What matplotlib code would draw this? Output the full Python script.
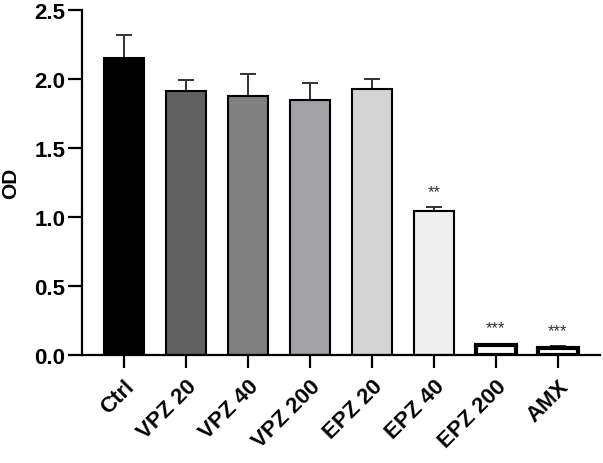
import matplotlib
matplotlib.use("Agg")
import matplotlib.pyplot as plt
import numpy as np

plt.rcParams['font.family'] = ['Liberation Sans', 'DejaVu Sans']

groups = ['Ctrl', 'VPZ 20', 'VPZ 40', 'VPZ 200', 'EPZ 20', 'EPZ 40', 'EPZ 200', 'AMX']
means = [2.15, 1.91, 1.88, 1.85, 1.93, 1.04, 0.07, 0.05]
errors = [0.17, 0.08, 0.16, 0.12, 0.07, 0.03, 0.01, 0.015]
stars = ['', '', '', '', '', '**', '***', '***']
colors = ['#000000', '#606060', '#808080', '#a2a2a6', '#d4d4d4', '#efefef', '#ffffff', '#ffffff']
edge_widths = [1.5, 1.5, 1.5, 1.5, 1.5, 1.5, 3.0, 3.0]

fig = plt.figure(figsize=(6.03, 4.64), dpi=100)
ax = fig.add_axes([0.136, 0.233, 0.859, 0.743])

x = np.arange(len(groups))
ax.errorbar(x, means, yerr=[np.zeros(len(errors)), errors], fmt='none',
            ecolor='#333333', elinewidth=1.4, capsize=6, capthick=1.4, zorder=1)
ax.bar(x, means, width=0.645, color=colors, edgecolor='black', linewidth=edge_widths, zorder=2)

for xi, m, e, s in zip(x, means, errors, stars):
    if s:
        ax.text(xi, m + e + 0.06, s, ha='center', va='bottom', fontsize=12, color='#333333')

ax.set_xlim(-0.68, 7.68)
ax.set_ylim(0, 2.5)
ax.set_yticks([0.0, 0.5, 1.0, 1.5, 2.0, 2.5])
ax.set_yticklabels(['0.0', '0.5', '1.0', '1.5', '2.0', '2.5'])
ax.set_xticks(x)
ax.set_xticklabels(groups, rotation=45, ha='right', rotation_mode='anchor')

for lab in ax.get_yticklabels():
    lab.set_fontweight('bold')
    lab.set_fontsize(16)
for lab in ax.get_xticklabels():
    lab.set_fontweight('bold')
    lab.set_fontsize(16)

ax.set_ylabel('OD', fontsize=15, fontweight='bold', labelpad=10)

ax.spines['top'].set_visible(False)
ax.spines['right'].set_visible(False)
ax.spines['left'].set_linewidth(1.6)
ax.spines['bottom'].set_linewidth(1.6)
ax.tick_params(axis='y', length=10, width=1.6, pad=2)
ax.tick_params(axis='x', length=9, width=1.6, pad=6)

fig.savefig('out.png', dpi=100)
